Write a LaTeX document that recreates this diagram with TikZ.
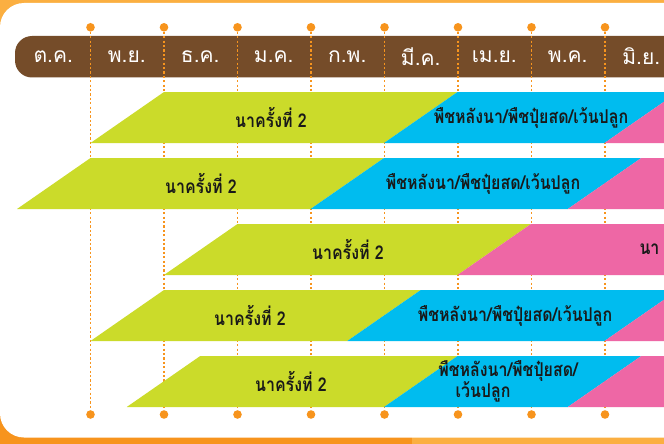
\documentclass[tikz,border=0pt]{standalone}
\usepackage{fontspec}
\newfontfamily\thaifont[Script=Thai]{Loma}
\newfontfamily\thaicond[Script=Thai,FakeStretch=0.84]{Loma}
\definecolor{orgL}{HTML}{FBAF41}
\definecolor{orgD}{HTML}{F7941D}
\definecolor{barbrown}{HTML}{754C29}
\definecolor{dotorg}{HTML}{F7941D}
\definecolor{rgreen}{HTML}{CBDB2A}
\definecolor{rblue}{HTML}{00BCEF}
\definecolor{rpink}{HTML}{EE67A5}
\tikzset{
  dotmark/.style={circle, fill=dotorg, inner sep=0pt, minimum size=8.6pt},
  guide/.style={draw=dotorg, line width=1.1pt, dash pattern=on 2.2pt off 2.2pt},
  month/.style={text=white, font=\thaifont\fontsize{21}{23}\selectfont},
  rowtext/.style={text=black!90, font=\thaicond\bfseries\fontsize{19}{21}\selectfont},
}
\begin{document}
\begin{tikzpicture}[x=1pt,y=-1pt]
\useasboundingbox (0,0) rectangle (664,444);
\clip (0,0) rectangle (664,444);
% frame
\fill[orgL] (0,0) rectangle (664,444);
\fill[orgD] (0,395) rectangle (412,444);
\fill[white, rounded corners=24pt] (0,3) rectangle (720,437.5);
% month bar
\fill[barbrown, rounded corners=17pt] (15,36) rectangle (720,77.5);
\foreach \m [count=\k from 0] in {ต.ค., พ.ย., ธ.ค., ม.ค., ก.พ., มี.ค., เม.ย., พ.ค., มิ.ย.}
  \node[month] (m\k) at (53.25+73.5*\k,56.5) {\m};
% dots and guides
\foreach \i in {0,...,7}{
  \node[dotmark] (t\i) at (90.5+73.5*\i,27.3) {};
  \node[dotmark] (b\i) at (90.5+73.5*\i,414.5) {};
  \draw[guide] (t\i) -- (b\i);
}
% row 1
\fill[rgreen] (90.5,143) -- (164,92) -- (457.5,92) -- (384,143) -- cycle;
\fill[rblue] (384,143) -- (457.5,92) -- (678,92) -- (604.5,143) -- cycle;
\fill[rpink] (604.5,143) -- (678,92) -- (720,92) -- (720,143) -- cycle;
\node[rowtext] (r1a) at (271,117.5) {นาครั้งที่ 2};
\node[rowtext] (r1b) at (531,117.5) {พืชหลังนา/พืชปุ๋ยสด/เว้นปลูก};
% row 2
\fill[rgreen] (17,209) -- (90.5,158) -- (384,158) -- (310.5,209) -- cycle;
\fill[rblue] (310.5,209) -- (384,158) -- (641.25,158) -- (567.75,209) -- cycle;
\fill[rpink] (567.75,209) -- (641.25,158) -- (720,158) -- (720,209) -- cycle;
\node[rowtext] (r2a) at (201,183.5) {นาครั้งที่ 2};
\node[rowtext] (r2b) at (483,183.5) {พืชหลังนา/พืชปุ๋ยสด/เว้นปลูก};
% row 3
\fill[rgreen] (164,275) -- (237.5,224) -- (531,224) -- (457.5,275) -- cycle;
\fill[rpink] (457.5,275) -- (531,224) -- (720,224) -- (720,275) -- cycle;
\node[rowtext] (r3a) at (348,249.5) {นาครั้งที่ 2};
\node[rowtext, anchor=west] (r3b) at (636,249.5) {นา};
% row 4
\fill[rgreen] (90.5,341) -- (164,290) -- (420.75,290) -- (347.25,341) -- cycle;
\fill[rblue] (347.25,341) -- (420.75,290) -- (678,290) -- (604.5,341) -- cycle;
\fill[rpink] (604.5,341) -- (678,290) -- (720,290) -- (720,341) -- cycle;
\node[rowtext] (r4a) at (250,315.5) {นาครั้งที่ 2};
\node[rowtext] (r4b) at (515,315.5) {พืชหลังนา/พืชปุ๋ยสด/เว้นปลูก};
% row 5
\fill[rgreen] (126.75,407) -- (200.25,356) -- (457.5,356) -- (384,407) -- cycle;
\fill[rblue] (384,407) -- (457.5,356) -- (641.25,356) -- (567.75,407) -- cycle;
\fill[rpink] (567.75,407) -- (641.25,356) -- (720,356) -- (720,407) -- cycle;
\node[rowtext] (r5a) at (291,381.5) {นาครั้งที่ 2};
\node[rowtext] (r5b) at (508,370.5) {พืชหลังนา/พืชปุ๋ยสด/};
\node[rowtext] (r5c) at (483,392) {เว้นปลูก};
\end{tikzpicture}
\end{document}
